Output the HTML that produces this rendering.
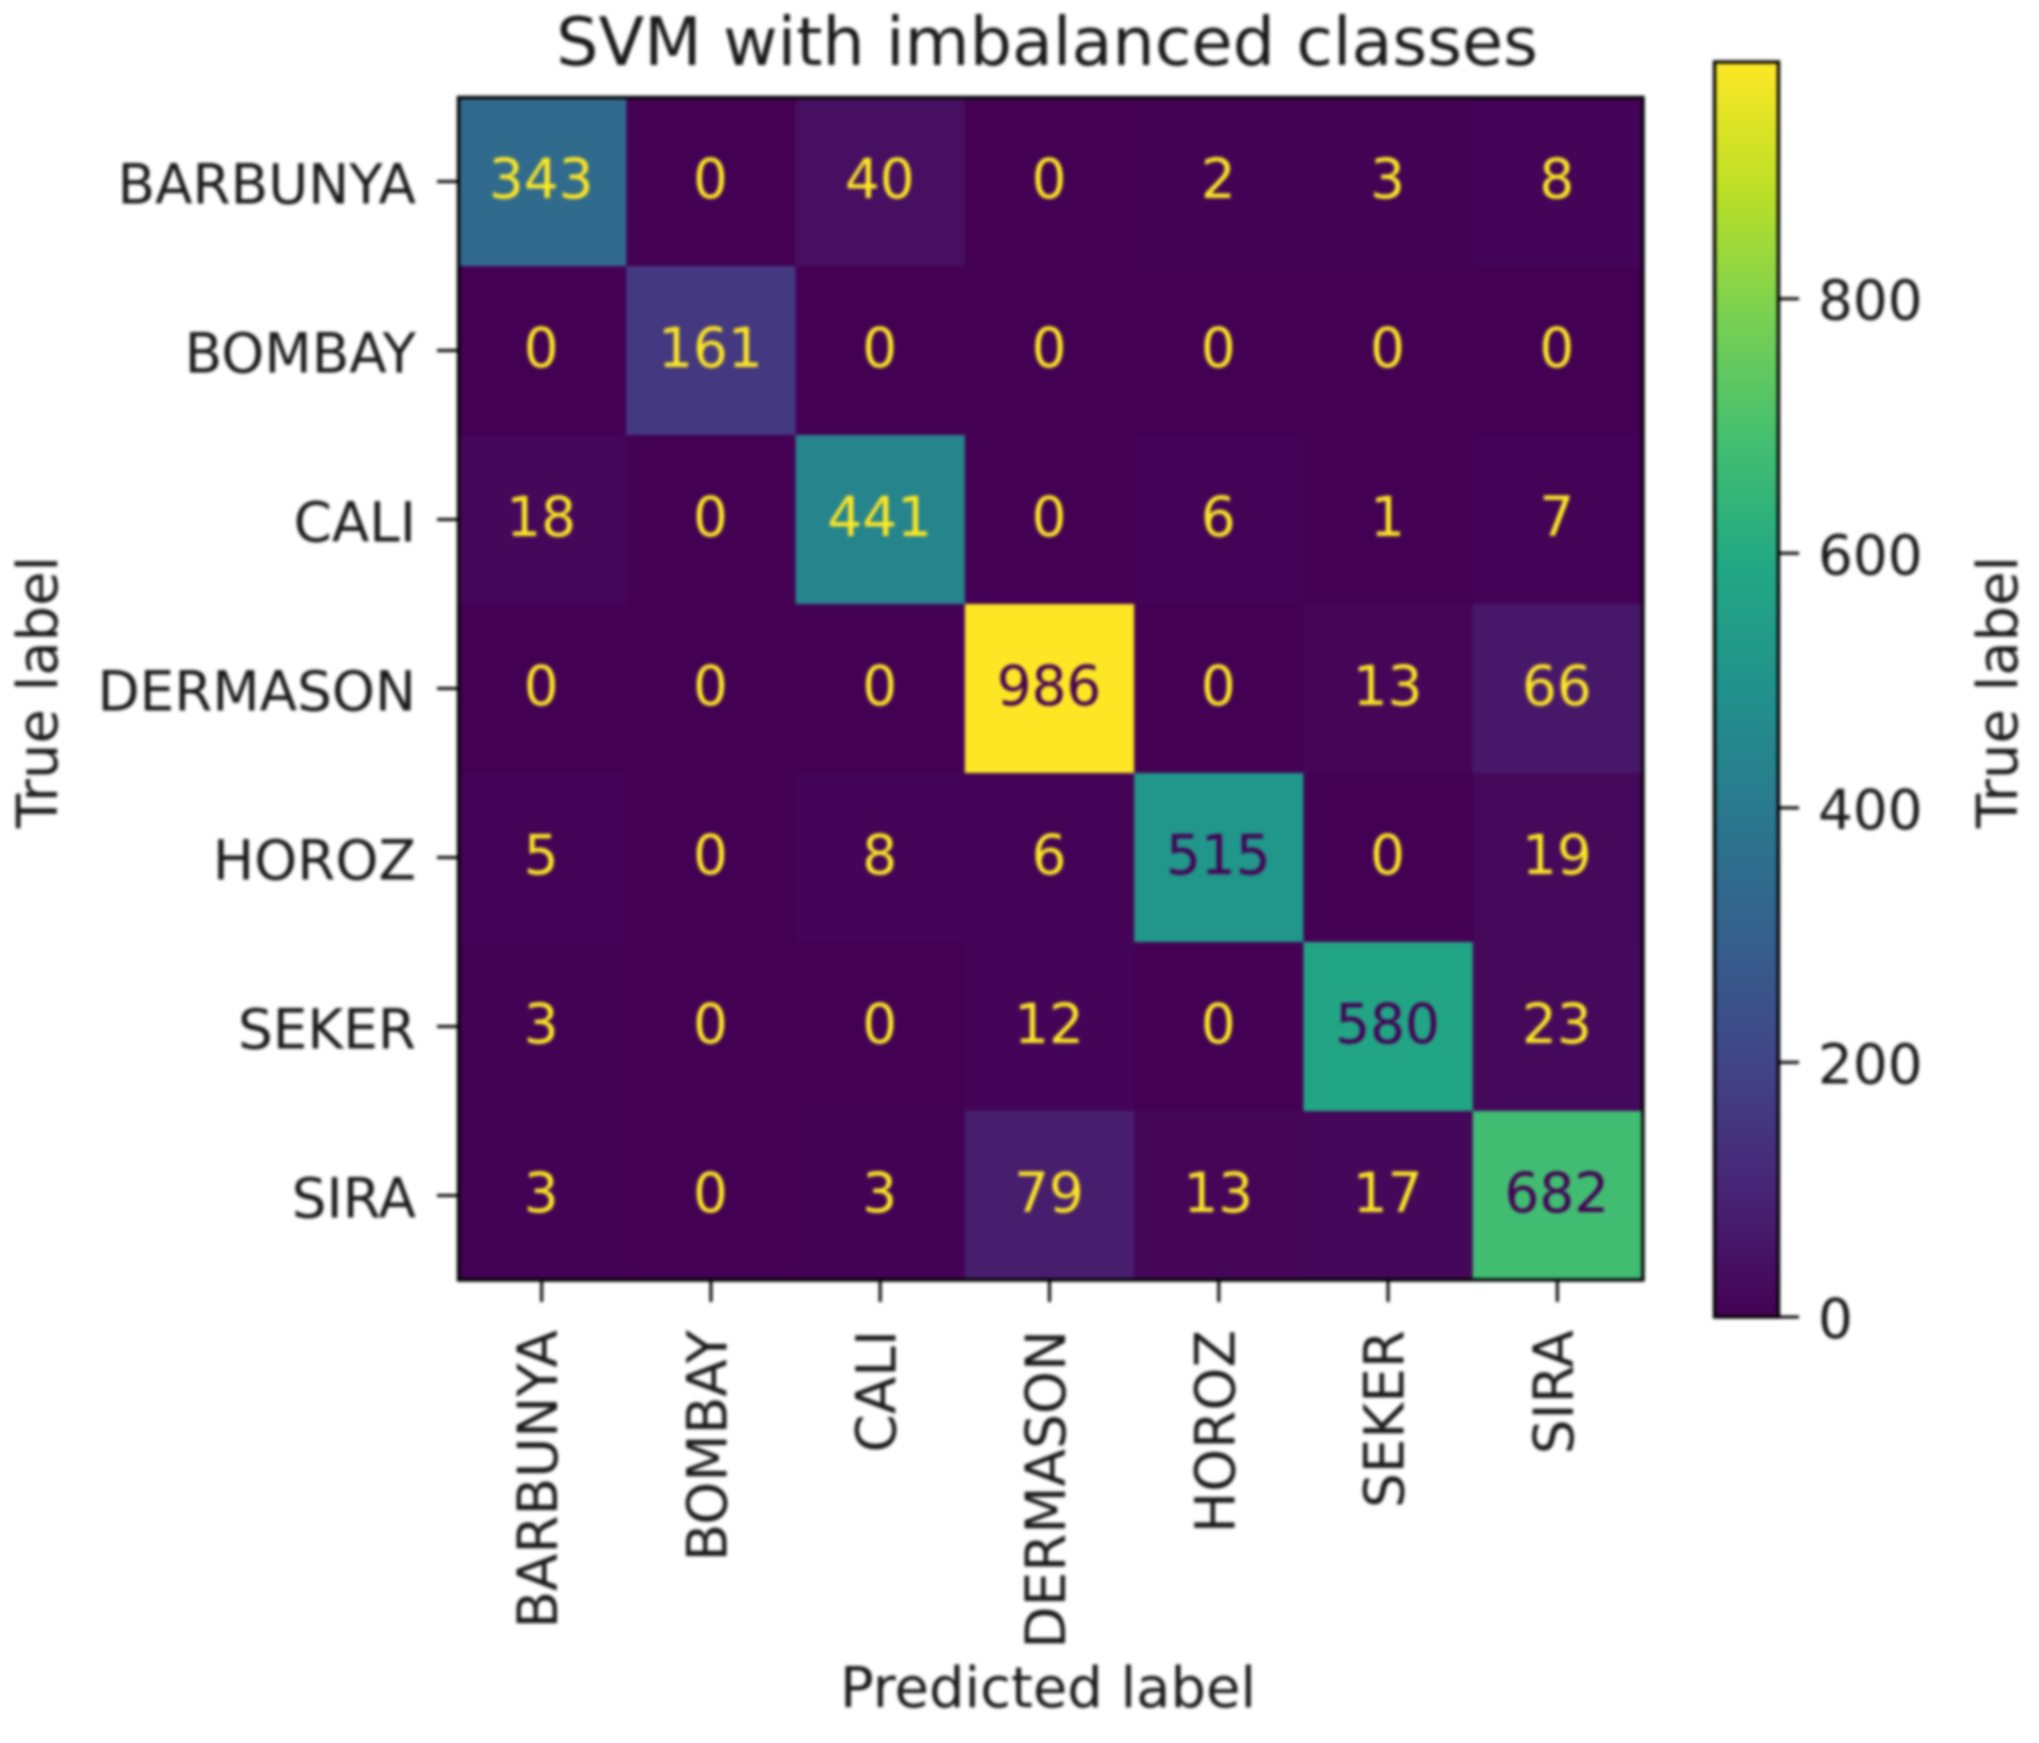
<!DOCTYPE html>
<html lang="en">
<head>
<meta charset="utf-8">
<title>SVM with imbalanced classes</title>
<style>
  html, body { margin: 0; padding: 0; background: #fff; }
  #chart { display: block; width: 2039px; height: 1743px; filter: blur(1.7px); }
  text { font-family: "DejaVu Sans", "Liberation Sans", sans-serif; font-size: 54.8px; fill: #1a1a1a; }
</style>
</head>
<body>
<svg id="chart" xmlns="http://www.w3.org/2000/svg" width="2039" height="1743" viewBox="0 0 2039 1743">
  <rect x="0" y="0" width="2039" height="1743" fill="#ffffff"/>
  <text x="1047" y="65" text-anchor="middle" style="font-size:66.8px">SVM with imbalanced classes</text>
  <text x="1048" y="1707" text-anchor="middle" style="font-size:56px">Predicted label</text>
  <text transform="translate(57,692) rotate(-90)" text-anchor="middle" style="font-size:56px">True label</text>
  <text transform="translate(2017,692) rotate(-90)" text-anchor="middle" style="font-size:56px">True label</text>
  <g id="cells"></g>
  <g id="cell-labels"></g>
  <rect x="458.5" y="97.5" width="1184.5" height="1182.5" fill="none" stroke="#000" stroke-width="3.4"/>
  <g id="x-ticks"></g>
  <g id="y-ticks"></g>
  <g id="colorbar"></g>
  <rect x="1714.5" y="62" width="64" height="1255" fill="none" stroke="#000" stroke-width="3.4"/>
  <g id="colorbar-ticks"></g>
</svg>
<script>
const categories = ['BARBUNYA', 'BOMBAY', 'CALI', 'DERMASON', 'HOROZ', 'SEKER', 'SIRA'];
const rowBarbunya = [343, 0, 40, 0, 2, 3, 8];
const rowBombay = [0, 161, 0, 0, 0, 0, 0];
const rowCali = [18, 0, 441, 0, 6, 1, 7];
const rowDermason = [0, 0, 0, 986, 0, 13, 66];
const rowHoroz = [5, 0, 8, 6, 515, 0, 19];
const rowSeker = [3, 0, 0, 12, 0, 580, 23];
const rowSira = [3, 0, 3, 79, 13, 17, 682];
const colorbarTicks = [0, 200, 400, 600, 800];
const viridis = ['#440154', '#482475', '#414487', '#355f8d', '#2a788e', '#21918c', '#22a884', '#44bf70', '#7ad151', '#bddf26', '#fde725'];

const NS = 'http://www.w3.org/2000/svg';
const matrix = [rowBarbunya, rowBombay, rowCali, rowDermason, rowHoroz, rowSeker, rowSira];
const vmax = Math.max(...matrix.flat());
const vmin = 0;

const plot = { left: 457, right: 1642, top: 97, bottom: 1280 };
const bar = { left: 1714, right: 1779, top: 62, bottom: 1317 };
const cellW = (plot.right - plot.left) / categories.length;
const cellH = (plot.bottom - plot.top) / categories.length;

function xScale(i) { return plot.left + i * cellW; }
function yScale(i) { return plot.top + i * cellH; }
function barScale(v) { return bar.bottom - (v - vmin) / (vmax - vmin) * (bar.bottom - bar.top); }
function colorOf(v) {
  const t = Math.min(1, Math.max(0, (v - vmin) / (vmax - vmin))) * (viridis.length - 1);
  const i = Math.min(viridis.length - 2, Math.floor(t));
  const f = t - i;
  const a = viridis[i], b = viridis[i + 1];
  const ch = k => {
    const p = parseInt(a.substr(1 + k * 2, 2), 16);
    const q = parseInt(b.substr(1 + k * 2, 2), 16);
    return Math.round(p + (q - p) * f);
  };
  return 'rgb(' + ch(0) + ',' + ch(1) + ',' + ch(2) + ')';
}
function make(tag, parent, attrs) {
  const el = document.createElementNS(NS, tag);
  for (const k in attrs) el.setAttribute(k, attrs[k]);
  parent.appendChild(el);
  return el;
}

const cellsG = document.getElementById('cells');
const labelsG = document.getElementById('cell-labels');
matrix.forEach((row, r) => {
  row.forEach((v, c) => {
    const rect = make('rect', cellsG, { x: xScale(c), y: yScale(r), width: cellW + 0.5, height: cellH + 0.5, fill: colorOf(v) });
    
    
    const thresh = (vmin + vmax) / 2;
    const txt = make('text', labelsG, { x: xScale(c) + cellW / 2 - 0.5, y: yScale(r) + cellH / 2 + 16.5, 'text-anchor': 'middle' });
    txt.style.fill = v > thresh ? '#440154' : '#fde725';
    txt.textContent = String(v);
    
    
  });
});

const xTicksG = document.getElementById('x-ticks');
const yTicksG = document.getElementById('y-ticks');
categories.forEach((name, i) => {
  const cx = xScale(i) + cellW / 2;
  const xt = make('line', xTicksG, { x1: cx, x2: cx, y1: plot.bottom, y2: plot.bottom + 22, stroke: '#000', 'stroke-width': 3 });
  
  
  const xl = make('text', xTicksG, { transform: 'translate(' + (cx + 15.5) + ',' + 1330 + ') rotate(-90)', 'text-anchor': 'end' });
  xl.textContent = name;
  
  

  const cy = yScale(i) + cellH / 2;
  const yt = make('line', yTicksG, { x1: plot.left - 20, x2: plot.left, y1: cy, y2: cy, stroke: '#000', 'stroke-width': 3 });
  
  
  const yl = make('text', yTicksG, { x: 416, y: cy + 22, 'text-anchor': 'end' });
  yl.textContent = name;
  
  
});

const barG = document.getElementById('colorbar');
const steps = 256;
for (let s = 0; s < steps; s++) {
  const v0 = vmin + (vmax - vmin) * s / steps;
  const v1 = vmin + (vmax - vmin) * (s + 1) / steps;
  make('rect', barG, { x: bar.left, width: bar.right - bar.left, y: barScale(v1), height: barScale(v0) - barScale(v1) + 0.6, fill: colorOf((v0 + v1) / 2) });
}

const cbTicksG = document.getElementById('colorbar-ticks');
colorbarTicks.forEach(v => {
  const y = barScale(v);
  const t = make('line', cbTicksG, { x1: bar.right, x2: bar.right + 20, y1: y, y2: y, stroke: '#000', 'stroke-width': 3 });
  
  
  const l = make('text', cbTicksG, { x: 1818, y: y + 21 });
  l.textContent = String(v);
  
  
});
</script>
</body>
</html>
